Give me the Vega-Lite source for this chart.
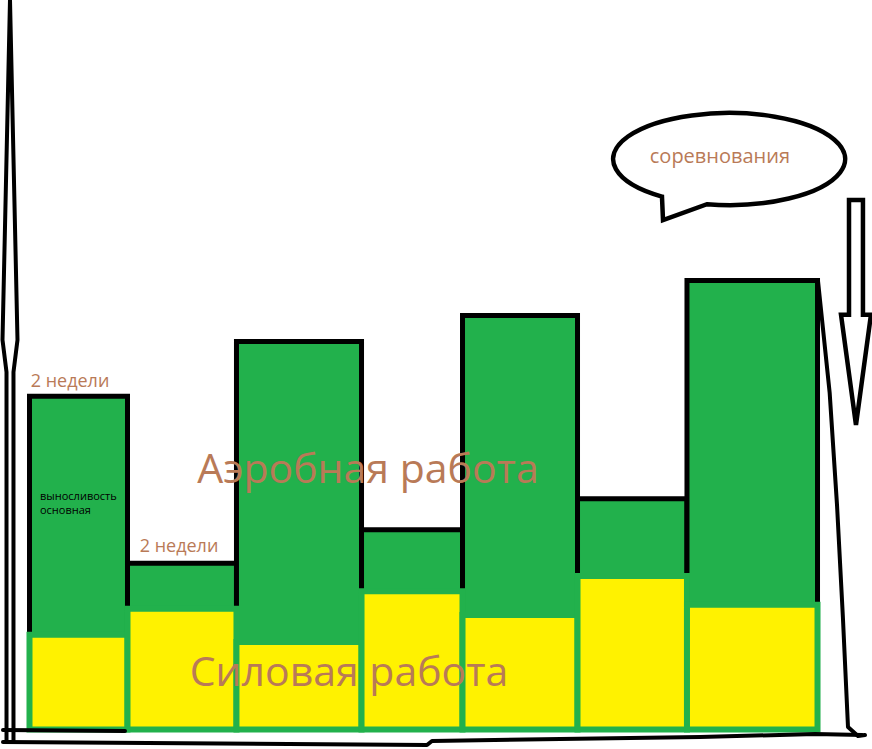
{
  "$schema": "https://vega.github.io/schema/vega-lite/v6.json",
  "width": 872,
  "height": 749,
  "autosize": {"type": "none"},
  "padding": 0,
  "background": "white",
  "config": {"view": {"stroke": null}},
  "datasets": {
    "bars": [
      {"stage": 1, "start": 0, "end": 2, "total": 74.2, "strength": 21.1},
      {"stage": 2, "start": 2, "end": 4.224, "total": 37.0, "strength": 26.9},
      {"stage": 3, "start": 4.224, "end": 6.776, "total": 86.4, "strength": 19.5},
      {"stage": 4, "start": 6.776, "end": 8.837, "total": 44.5, "strength": 30.8},
      {"stage": 5, "start": 8.837, "end": 11.184, "total": 92.2, "strength": 25.5},
      {"stage": 6, "start": 11.184, "end": 13.418, "total": 51.4, "strength": 34.2},
      {"stage": 7, "start": 13.418, "end": 16.082, "total": 100, "strength": 27.8}
    ],
    "bigLabels": [
      {"text": "Аэробная работа", "x": 6.908, "y": 54.9},
      {"text": "Силовая работа", "x": 6.52, "y": 9.7}
    ],
    "weekLabels": [
      {"text": "2 недели", "x": 0.827, "y": 76.28},
      {"text": "2 недели", "x": 3.051, "y": 39.53}
    ],
    "smallLabels": [
      {"text": "выносливость", "x": 0.214, "y": 51.1},
      {"text": "основная", "x": 0.214, "y": 48.0}
    ],
    "bubbleLabel": [
      {"text": "соревнования", "x": 14.09, "y": 126.17}
    ],
    "handLines": [
      {"line": "bottom", "order": 1, "x": -0.541, "y": -2.78},
      {"line": "bottom", "order": 2, "x": 8.112, "y": -3.45},
      {"line": "bottom", "order": 3, "x": 8.214, "y": -2.56},
      {"line": "bottom", "order": 4, "x": 13.684, "y": -1.67},
      {"line": "bottom", "order": 5, "x": 16.031, "y": -1.0},
      {"line": "bottom", "order": 6, "x": 16.99, "y": -1.22},
      {"line": "corner", "order": 1, "x": -0.541, "y": -0.11},
      {"line": "corner", "order": 2, "x": 1.949, "y": -0.33},
      {"line": "drop", "order": 1, "x": 16.092, "y": 99.89},
      {"line": "drop", "order": 2, "x": 16.33, "y": 75.0},
      {"line": "drop", "order": 3, "x": 16.48, "y": 50.0},
      {"line": "drop", "order": 4, "x": 16.6, "y": 25.0},
      {"line": "drop", "order": 5, "x": 16.704, "y": 0.56},
      {"line": "drop", "order": 6, "x": 16.908, "y": -1.45},
      {"line": "drop", "order": 7, "x": 17.051, "y": -1.22}
    ],
    "axisArrow": [{"x": -0.398, "y": 79.84}],
    "downArrow": [{"x": 16.867, "y": 92.87}],
    "bubble": [{"x": 14.276, "y": 127.06}]
  },
  "encoding": {
    "x": {"type": "quantitative", "scale": {"domain": [-0.602, 17.194], "nice": false, "zero": false}, "axis": null},
    "y": {"type": "quantitative", "scale": {"domain": [-4.343, 162.47], "nice": false, "zero": false}, "axis": null}
  },
  "layer": [
    {
      "data": {"name": "bars"},
      "mark": {"type": "rect", "fill": "#22B14C", "stroke": "black", "strokeWidth": 5},
      "encoding": {
        "x": {"field": "start", "type": "quantitative"},
        "x2": {"field": "end"},
        "y": {"field": "total", "type": "quantitative"},
        "y2": {"datum": 0}
      }
    },
    {
      "data": {"name": "bars"},
      "mark": {"type": "rect", "fill": "#FFF200", "stroke": "#22B14C", "strokeWidth": 6},
      "encoding": {
        "x": {"field": "start", "type": "quantitative"},
        "x2": {"field": "end"},
        "y": {"field": "strength", "type": "quantitative"},
        "y2": {"datum": 0}
      }
    },
    {
      "data": {"name": "handLines"},
      "mark": {"type": "line", "color": "black", "strokeWidth": 4, "strokeCap": "round", "strokeJoin": "round"},
      "encoding": {
        "x": {"field": "x", "type": "quantitative"},
        "y": {"field": "y", "type": "quantitative"},
        "detail": {"field": "line"},
        "order": {"field": "order", "type": "quantitative"}
      }
    },
    {
      "data": {"name": "axisArrow"},
      "mark": {"type": "point", "filled": false, "color": "black", "strokeWidth": 4, "opacity": 1, "size": 550564,
        "shape": "M 0 -1 L 0.0202 -0.0836 L 0.0094 0.0027 L 0.0094 1 L -0.0094 1 L -0.0094 0.0027 L -0.0202 -0.0836 Z"},
      "encoding": {
        "x": {"field": "x", "type": "quantitative"},
        "y": {"field": "y", "type": "quantitative"}
      }
    },
    {
      "data": {"name": "downArrow"},
      "mark": {"type": "point", "filled": false, "color": "black", "strokeWidth": 4.5, "opacity": 1, "size": 50625,
        "shape": "M -0.062 -1 L 0.062 -1 L 0.062 0.02 L 0.133 0.02 L 0 1 L -0.133 0.02 L -0.062 0.02 Z"},
      "encoding": {
        "x": {"field": "x", "type": "quantitative"},
        "y": {"field": "y", "type": "quantitative"}
      }
    },
    {
      "data": {"name": "bubble"},
      "mark": {"type": "point", "filled": false, "color": "black", "strokeWidth": 4.5, "opacity": 1, "size": 53824,
        "shape": "M -0.578 0.324 A 1 0.397 0 1 1 -0.19 0.39 L -0.569 0.526 Z"},
      "encoding": {
        "x": {"field": "x", "type": "quantitative"},
        "y": {"field": "y", "type": "quantitative"}
      }
    },
    {
      "data": {"name": "bigLabels"},
      "mark": {"type": "text", "color": "#B97A57", "font": "Open Sans", "fontSize": 41, "align": "center", "baseline": "alphabetic"},
      "encoding": {
        "x": {"field": "x", "type": "quantitative"},
        "y": {"field": "y", "type": "quantitative"},
        "text": {"field": "text"}
      }
    },
    {
      "data": {"name": "weekLabels"},
      "mark": {"type": "text", "color": "#B97A57", "font": "Open Sans", "fontSize": 18, "align": "center", "baseline": "alphabetic"},
      "encoding": {
        "x": {"field": "x", "type": "quantitative"},
        "y": {"field": "y", "type": "quantitative"},
        "text": {"field": "text"}
      }
    },
    {
      "data": {"name": "bubbleLabel"},
      "mark": {"type": "text", "color": "#B97A57", "font": "Open Sans", "fontSize": 20, "align": "center", "baseline": "alphabetic"},
      "encoding": {
        "x": {"field": "x", "type": "quantitative"},
        "y": {"field": "y", "type": "quantitative"},
        "text": {"field": "text"}
      }
    },
    {
      "data": {"name": "smallLabels"},
      "mark": {"type": "text", "color": "black", "font": "Open Sans", "fontSize": 11, "align": "left", "baseline": "alphabetic"},
      "encoding": {
        "x": {"field": "x", "type": "quantitative"},
        "y": {"field": "y", "type": "quantitative"},
        "text": {"field": "text"}
      }
    }
  ]
}
